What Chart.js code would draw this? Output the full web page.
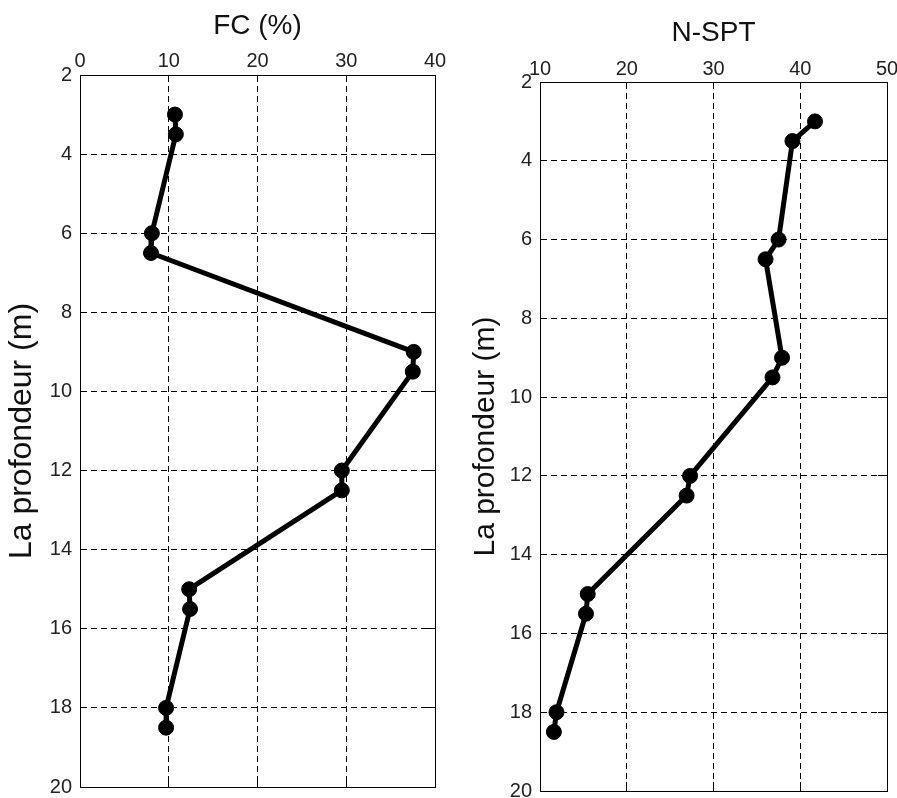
<!DOCTYPE html>
<html>
<head>
<meta charset="utf-8">
<script src="https://cdn.jsdelivr.net/npm/chart.js@4.4.1/dist/chart.umd.min.js"></script>
<style>
  body { margin: 0; background: #fff; overflow: hidden; width: 897px; height: 798px; position: relative; }
  canvas { position: absolute; top: 0; }
  #fcChart { left: 0; }
  #sptChart { left: 450px; }
</style>
</head>
<body>
<canvas id="fcChart" width="450" height="820"></canvas>
<canvas id="sptChart" width="470" height="820"></canvas>
<script>
// depth of each sample (m)
const depths = [3, 3.5, 6, 6.5, 9, 9.5, 12, 12.5, 15, 15.5, 18, 18.5];
// fines content (%)
const fcValues = [10.7, 10.8, 8.1, 8.0, 37.6, 37.5, 29.5, 29.5, 12.3, 12.4, 9.7, 9.7];
// N-SPT blow counts
const nsptValues = [41.7, 39.1, 37.5, 36.0, 37.9, 36.8, 27.3, 26.9, 15.5, 15.3, 11.9, 11.6];

const fcRange = [0, 40];
const nsptRange = [10, 50];
const depthRange = [2, 20];
const xStep = 10;
const depthStep = 2;

Chart.defaults.font.family = '"Liberation Sans", Arial, sans-serif';
Chart.defaults.color = '#222';

const makeChart = (id, title, values, range, g) => {
  const points = values.map((v, i) => ({x: v, y: depths[i]}));
  const dashed = {display: true, color: '#000', width: 1, dash: [6, 4]};

  return new Chart(document.getElementById(id), {
    type: 'scatter',
    data: {
      datasets: [{
        data: points,
        showLine: true,
        borderColor: '#000',
        borderWidth: 5,
        borderJoinStyle: 'round',
        pointRadius: 7.5,
        pointBackgroundColor: '#000',
        pointBorderColor: '#000',
        pointBorderWidth: 1,
        clip: false,
      }]
    },
    options: {
      responsive: false,
      animation: false,
      devicePixelRatio: 1,
      layout: {padding: {top: 0, left: 0, right: g.padRight, bottom: g.padBottom}},
      plugins: {legend: {display: false}, tooltip: {enabled: false}},
      scales: {
        x: {
          type: 'linear', position: 'top', min: range[0], max: range[1],
          ticks: {stepSize: xStep, padding: g.tickPad, font: {size: 20}},
          grid: {color: '#000', lineWidth: 1, drawTicks: false},
          border: dashed,
          title: {display: true, text: title, color: '#111', font: {size: 28}, padding: {top: g.titlePad, bottom: 0}},
          afterFit: s => { s.height = g.top; }
        },
        y: {
          type: 'linear', position: 'left', reverse: true, min: depthRange[0], max: depthRange[1],
          ticks: {stepSize: depthStep, padding: 8, font: {size: 20}},
          grid: {color: '#000', lineWidth: 1, drawTicks: false},
          border: dashed,
          title: {display: true, text: 'La profondeur (m)', color: '#111', font: {size: g.yFont}, padding: {top: g.yTitlePad, bottom: 0}},
          afterFit: s => { s.width = g.left; }
        },
        x2: {
          type: 'linear', position: 'bottom', min: range[0], max: range[1],
          ticks: {stepSize: xStep, display: false},
          grid: {drawOnChartArea: false, drawTicks: true, tickLength: -9, tickColor: '#000', tickWidth: 1},
          border: {display: true, color: '#000', width: 1},
          afterFit: s => { s.height = 0; }
        },
        y2: {
          type: 'linear', position: 'right', reverse: true, min: depthRange[0], max: depthRange[1],
          ticks: {stepSize: depthStep, display: false},
          grid: {drawOnChartArea: false, drawTicks: true, tickLength: -9, tickColor: '#000', tickWidth: 1},
          border: {display: true, color: '#000', width: 1},
          afterFit: s => { s.width = 0; }
        }
      }
    }
  });
};

makeChart('fcChart', 'FC (%)', fcValues, fcRange,
  {left: 80, top: 75, padRight: 15, padBottom: 33, tickPad: 2, titlePad: 9, yFont: 32, yTitlePad: 3});
makeChart('sptChart', 'N-SPT', nsptValues, nsptRange,
  {left: 90, top: 82, padRight: 33, padBottom: 29, tickPad: 1, titlePad: 16, yFont: 30, yTitlePad: 18});
</script>
</body>
</html>
